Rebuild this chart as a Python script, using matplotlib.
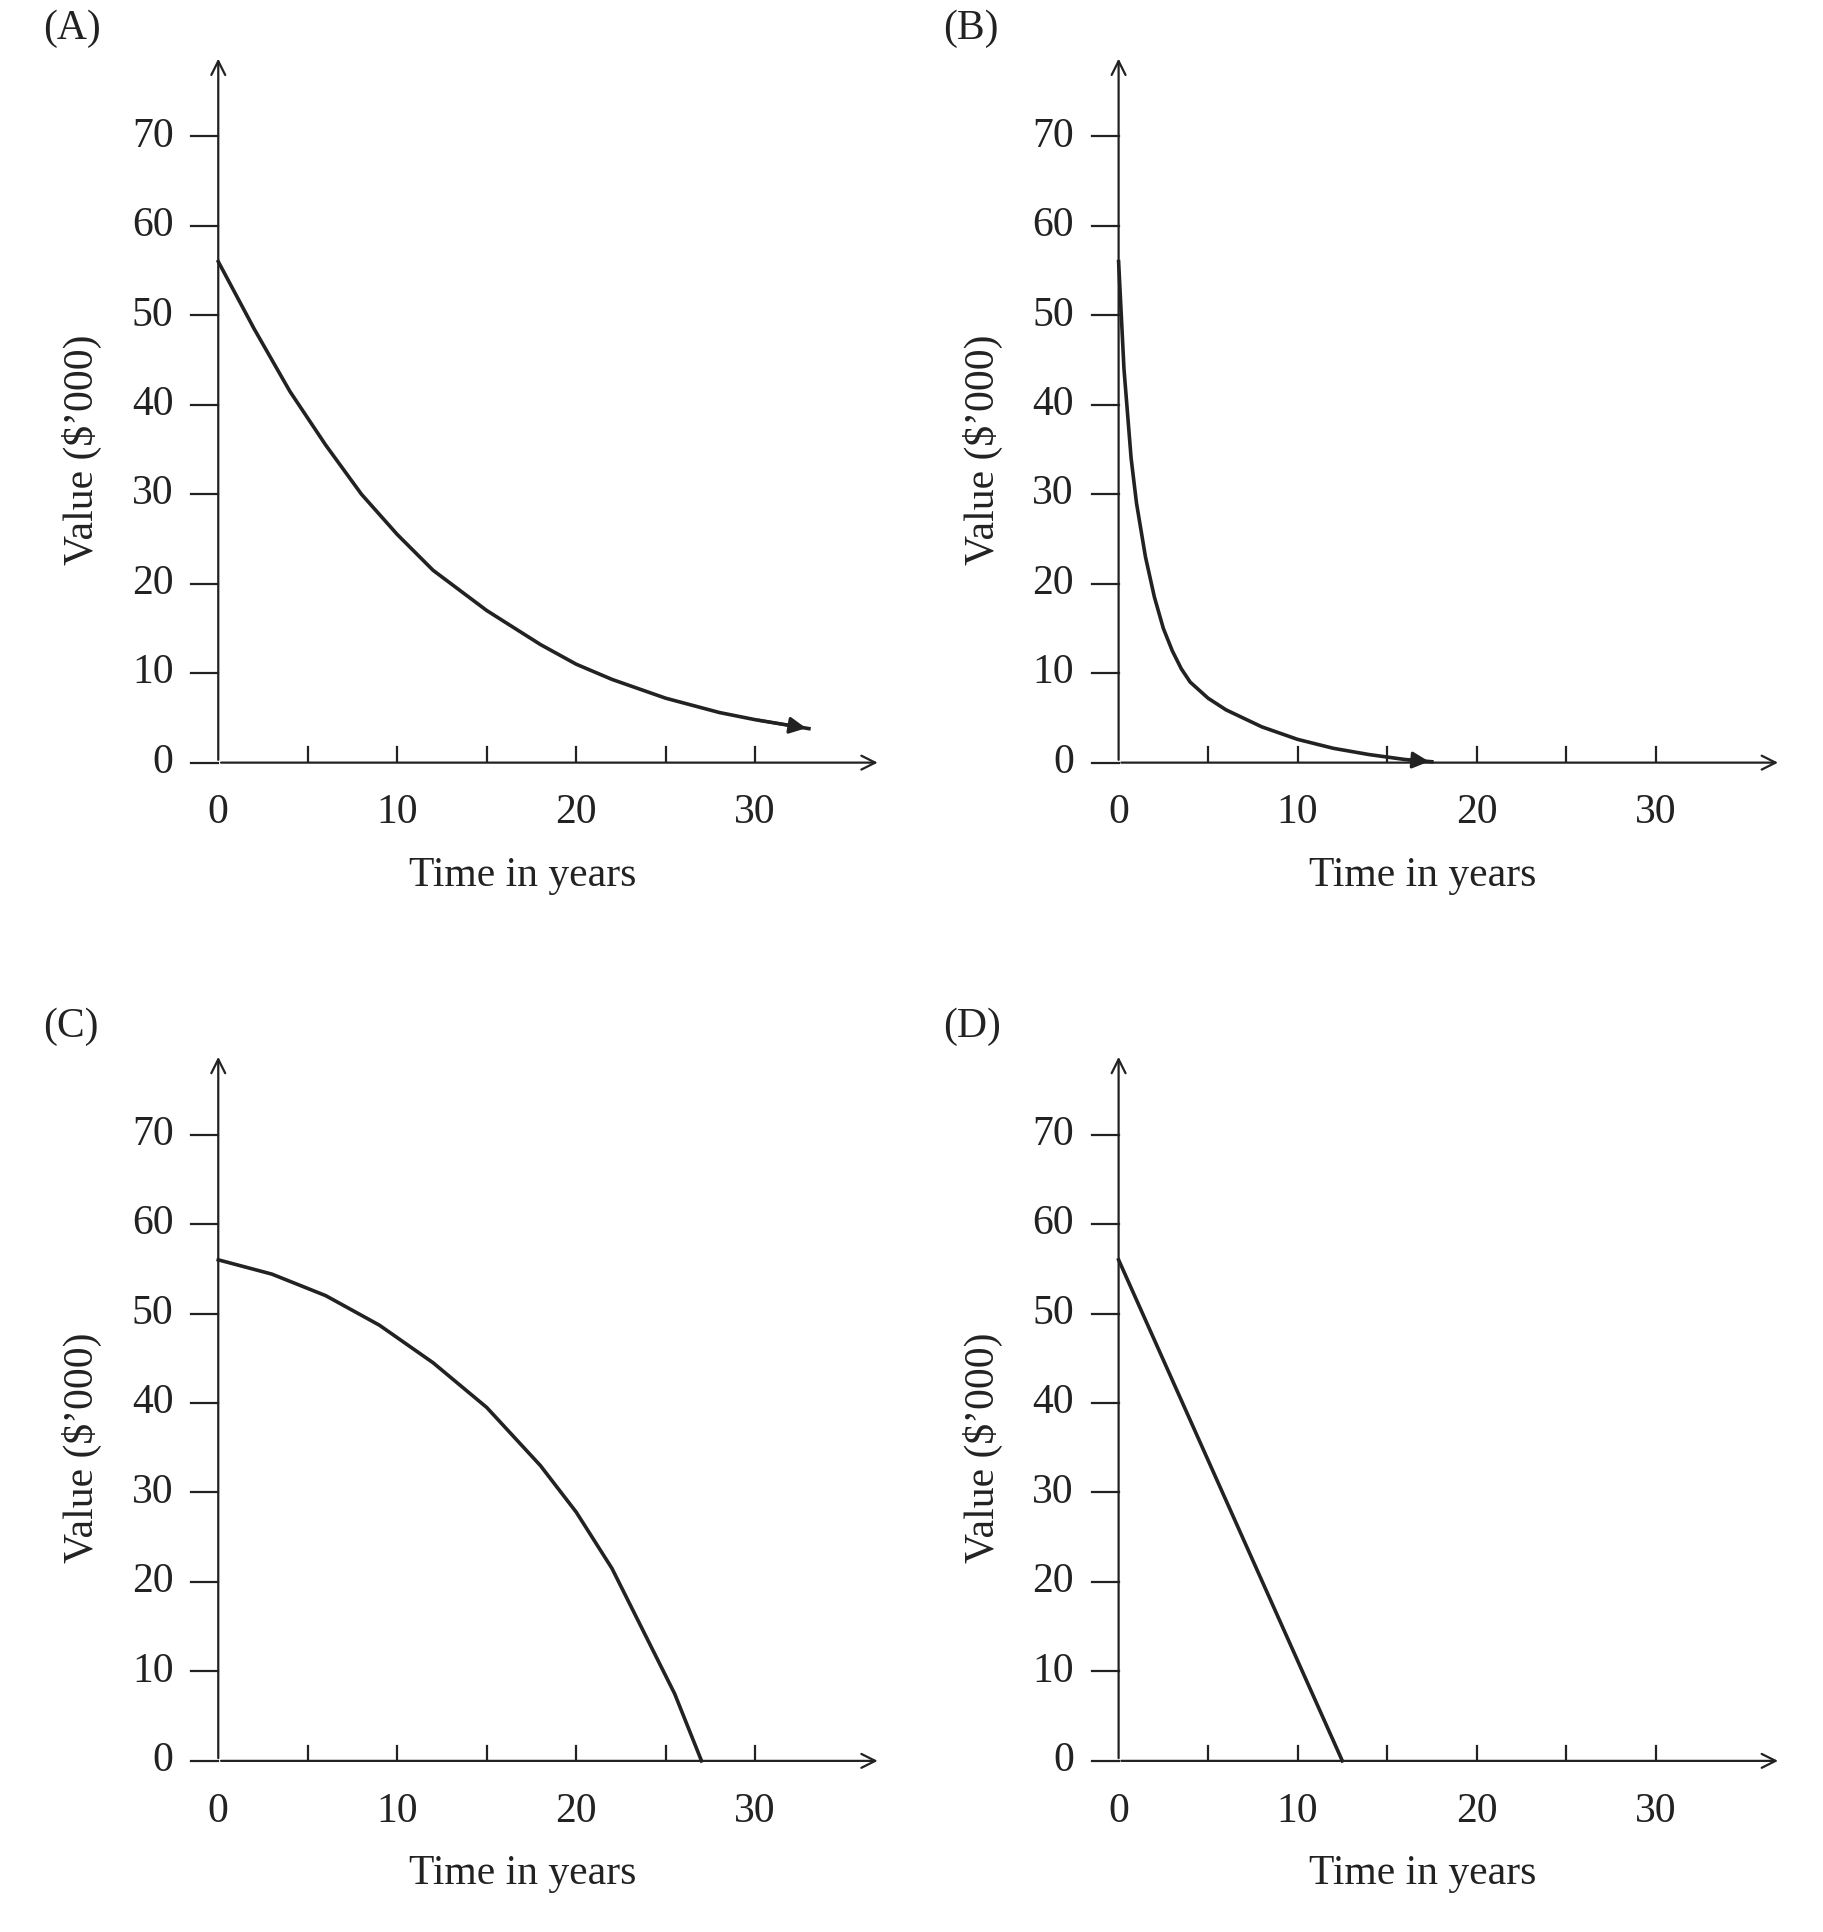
import numpy as np
import matplotlib
matplotlib.use("Agg")
import matplotlib.pyplot as plt

plt.rcParams["font.family"] = ["Liberation Serif", "DejaVu Serif"]

# read-off values ($'000 vs years)
a_t = [0, 2, 4, 6, 8, 10, 12, 15, 18, 20, 22, 25, 28, 30, 33]
a_v = [56, 48.5, 41.5, 35.5, 30, 25.5, 21.5, 17, 13.2, 11, 9.3, 7.2, 5.6, 4.8, 3.8]
b_t = [0, 0.3, 0.7, 1, 1.5, 2, 2.5, 3, 3.5, 4, 5, 6, 8, 10, 12, 14, 16, 17.5]
b_v = [56, 44, 34, 29, 23, 18.5, 15, 12.5, 10.5, 9, 7.2, 5.9, 4.0, 2.6, 1.6, 0.9, 0.35, 0.1]
c_t = [0, 3, 6, 9, 12, 15, 18, 20, 22, 24, 25.5, 27]
c_v = [56, 54.4, 52, 48.7, 44.5, 39.5, 33, 27.8, 21.5, 13.5, 7.5, 0]
d_t = [0, 12.5]
d_v = [56, 0]

panels = [("(A)", a_t, a_v, True), ("(B)", b_t, b_v, True),
          ("(C)", c_t, c_v, False), ("(D)", d_t, d_v, False)]
xticks = [0, 10, 20, 30]
yticks = [0, 10, 20, 30, 40, 50, 60, 70]

W, H = 1470.0, 1558.0
fig = plt.figure(figsize=(18.23, 19.32), dpi=100)
fs = 30

for i, (lab, t, v, arrow) in enumerate(panels):
    dx = 726 * (i % 2)
    dy = 805 * (i // 2)
    x0, x1 = 176 + dx, 710 + dx
    y0, y1 = 615 + dy, 45 + dy
    ax = fig.add_axes([x0 / W, 1 - y0 / H, (x1 - x0) / W, (y0 - y1) / H])
    ax.set_xlim(0, 37)
    ax.set_ylim(0, 79)
    for s in ax.spines.values():
        s.set_visible(False)
    ax.annotate("", xy=(37, 0), xytext=(0, 0), annotation_clip=False,
                arrowprops=dict(arrowstyle="->", lw=1.6, color="#222", mutation_scale=25))
    ax.annotate("", xy=(0, 79), xytext=(0, 0), annotation_clip=False,
                arrowprops=dict(arrowstyle="->", lw=1.6, color="#222", mutation_scale=25))
    for x in [5, 10, 15, 20, 25, 30]:
        ax.plot([x, x], [0, 1.7], color="#222", lw=1.6)
    for y in yticks:
        ax.plot([-1.5, 0], [y, y], color="#222", lw=1.6, clip_on=False)
        ax.text(-2.5, y, str(y), ha="right", va="center", fontsize=fs, color="#222")
    for x in xticks:
        ax.text(x, -3.5, str(x), ha="center", va="top", fontsize=fs, color="#222")
    ax.set_xticks([])
    ax.set_yticks([])
    ax.text(17, -10.5, "Time in years", ha="center", va="top", fontsize=fs, color="#222")
    ax.text(-7.6, 35, "Value ($\u2019000)", ha="center", va="center", rotation=90,
            fontsize=fs, color="#222")
    ax.text(-9.8, 82, lab, ha="left", va="center", fontsize=fs, color="#222")
    ax.plot(t, v, color="#222", lw=2.6, clip_on=False)
    if arrow:
        ax.annotate("", xy=(t[-1], v[-1]), xytext=(t[-2], v[-2]),
                    arrowprops=dict(arrowstyle="-|>", lw=2.2, color="#222", mutation_scale=25))

fig.savefig("out.png", dpi=100)
